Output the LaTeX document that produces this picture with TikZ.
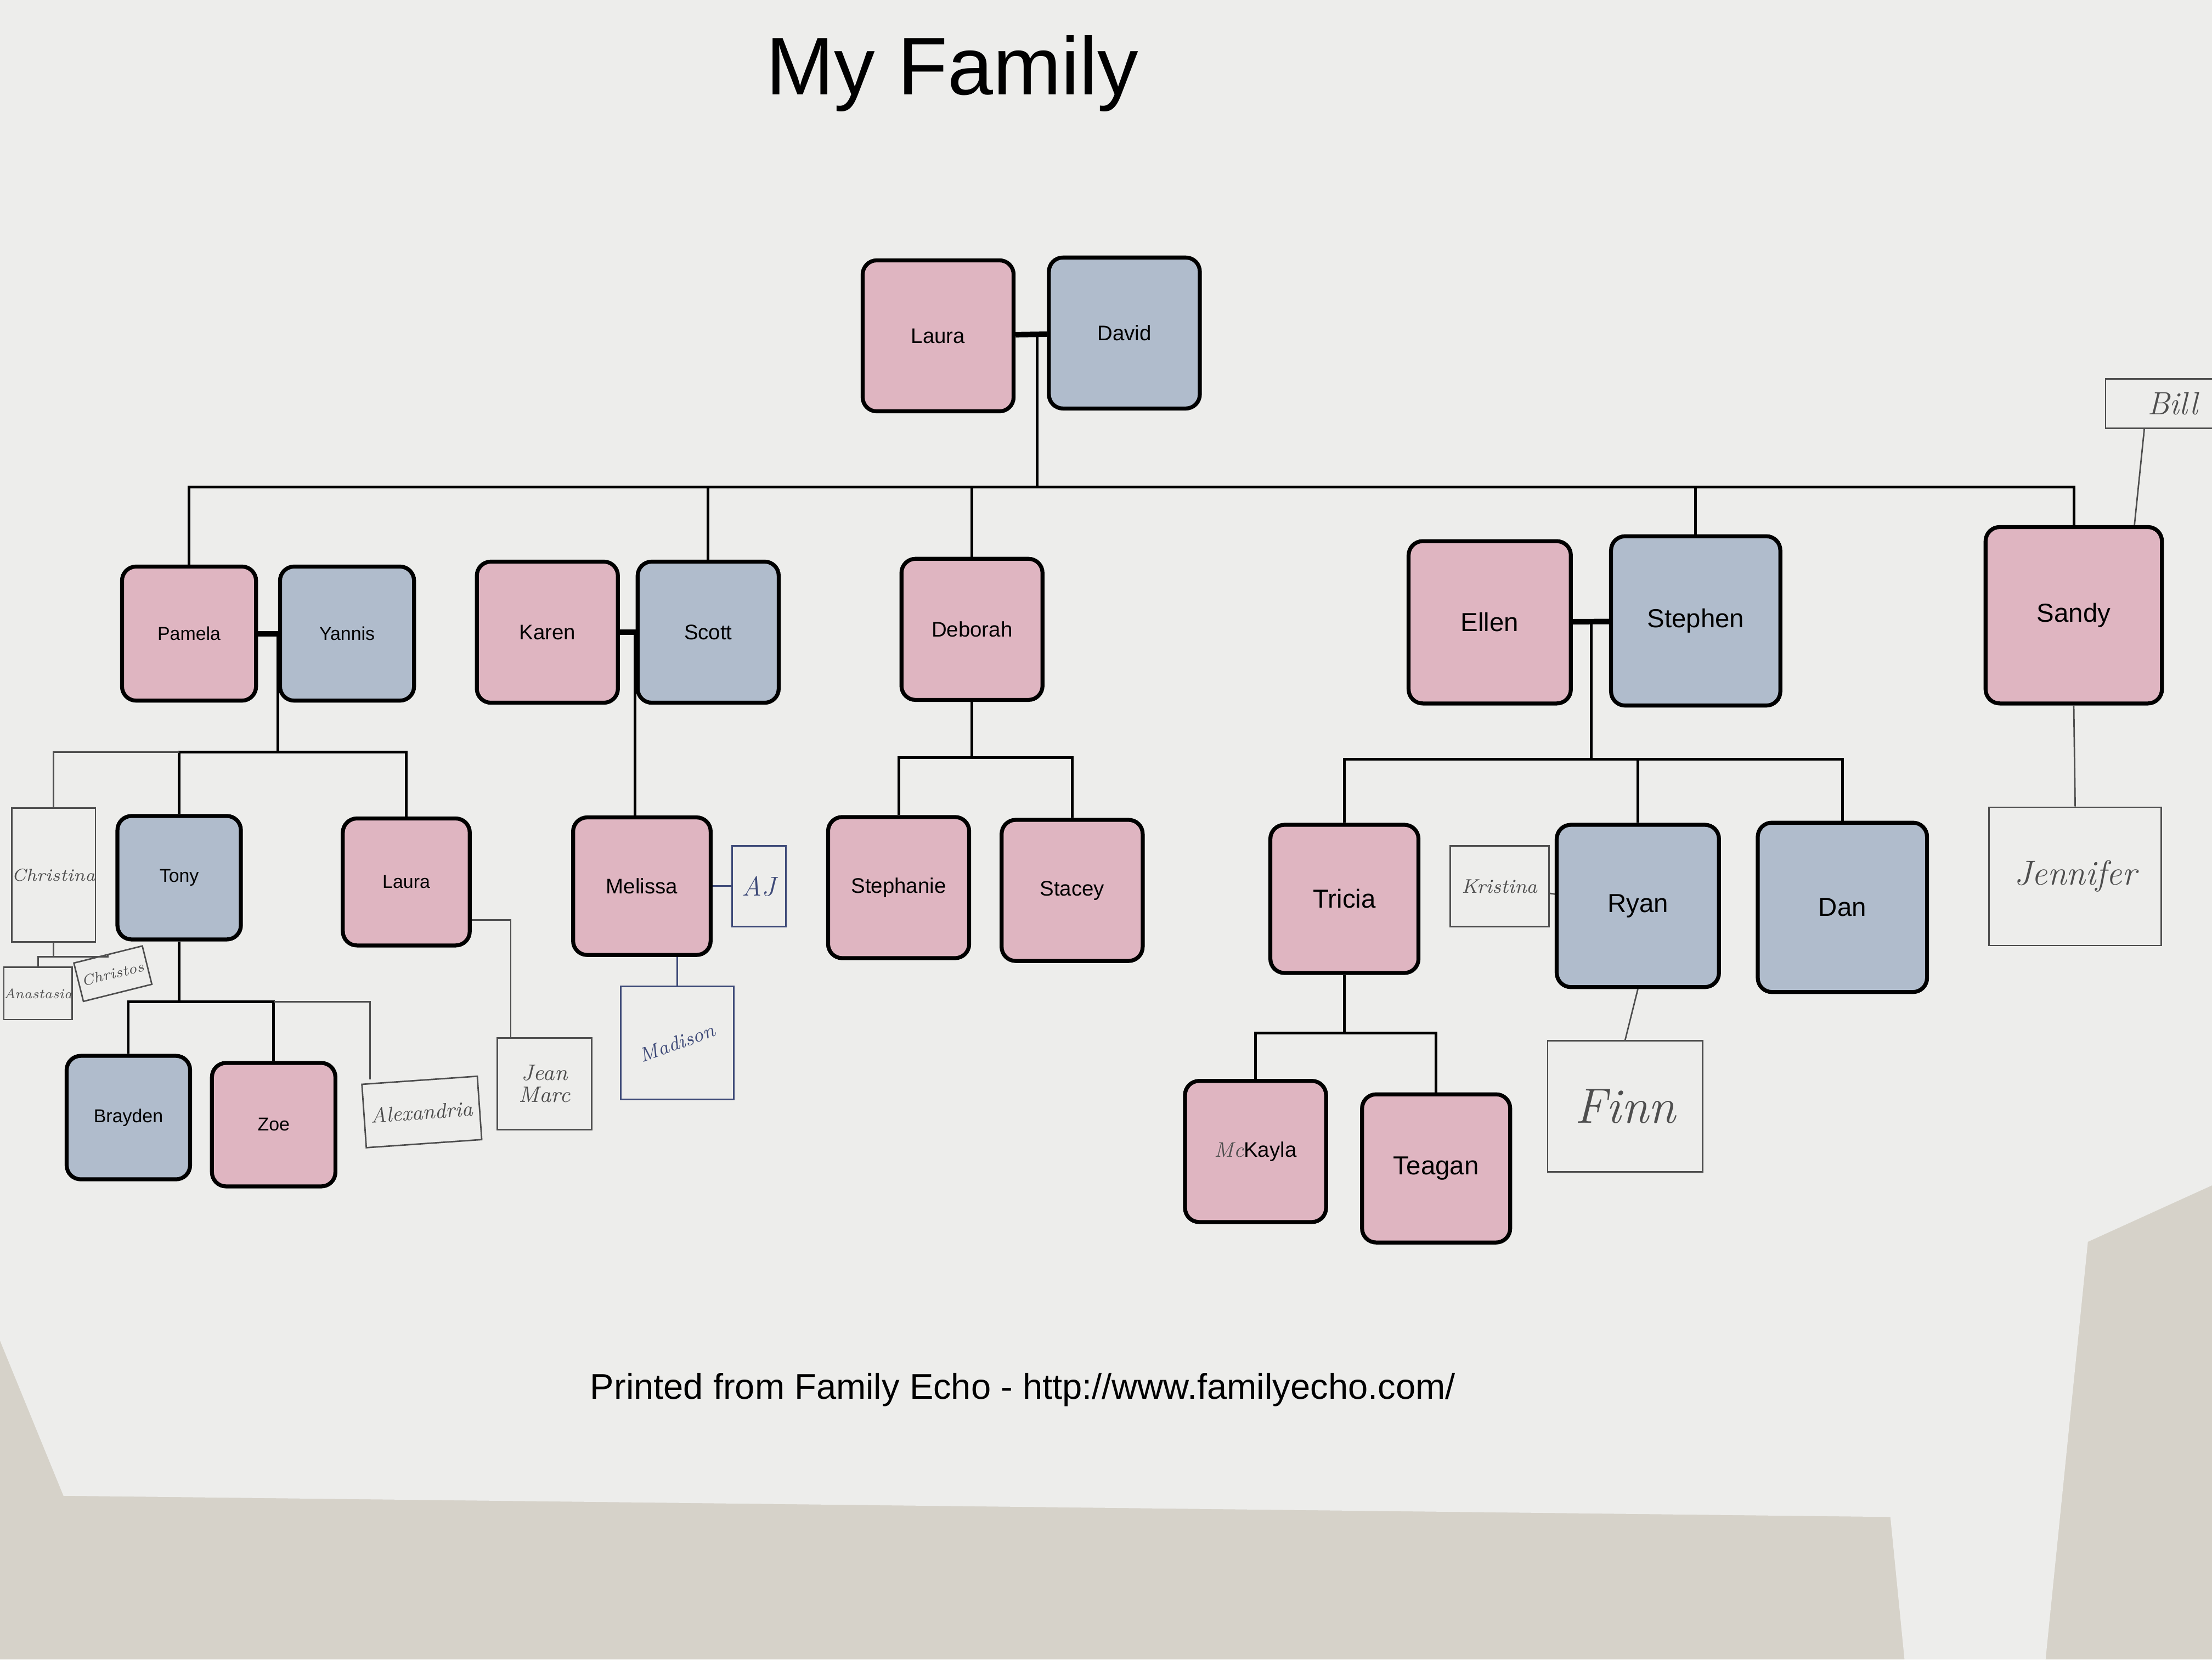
\documentclass[tikz,border=0pt]{standalone}
\usepackage{graphicx}
\usepackage{fontspec}
\setsansfont{Liberation Sans}
\definecolor{EchoPink}{HTML}{DFB5C1}
\definecolor{EchoBlue}{HTML}{B0BCCC}
\definecolor{PaperWhite}{HTML}{EDEDEB}
\definecolor{DoorGray}{HTML}{D6D2C9}
\definecolor{PencilGray}{HTML}{4E4E4E}
\definecolor{InkBlue}{HTML}{3E4A78}

\begin{document}
\begin{tikzpicture}[x=0.2mm, y=-0.2mm,
    person/.style={draw=black, line width=1.6pt, rounded corners=2mm, minimum size=19mm,
      inner sep=0pt, font=\sffamily\fontsize{8.5}{10}\selectfont},
    woman/.style={person, fill=EchoPink},
    man/.style={person, fill=EchoBlue},
    near/.style={font=\sffamily\fontsize{7.5}{9}\selectfont},
    far/.style={font=\sffamily\fontsize{10.5}{12}\selectfont},
    couple/.style={line width=2.2pt},
    descent/.style={line width=1.1pt},
    hand/.style={draw=PencilGray, text=PencilGray, line width=0.6pt, inner sep=0pt,
      font=\itshape\fontsize{#1}{#1}\selectfont},
    ink/.style={hand=#1, draw=InkBlue, text=InkBlue},
    pen/.style={draw=PencilGray, line width=0.6pt},
    inkline/.style={draw=InkBlue, line width=0.7pt}]
  \useasboundingbox (0,0) rectangle (1568,1176);

  % --- Wall and paper ---
  \fill[DoorGray] (0,0) rectangle (1568,1176);
  \fill[PaperWhite] (0,0) -- (1568,0) -- (1568,840) -- (1480,880) -- (1450,1176)
    -- (1350,1176) -- (1340,1075) -- (45,1060) -- (0,950) -- cycle;

  % --- Title and footer ---
  \node[font=\sffamily\fontsize{33}{36}\selectfont] (title) at (675,52) {My Family};
  \node[font=\sffamily\fontsize{14.4}{16}\selectfont] (footer) at (725,985)
    {Printed from Family Echo - http://www.familyecho.com/};

  % --- Generation 1 ---
  \node[woman, minimum size=21.4mm] (laura1) at (665,238) {Laura};
  \node[man, minimum size=21.4mm] (david) at (797,236) {David};
  \coordinate (ld) at (735,237);
  \coordinate (bar-ld) at (735,345);

  % --- Generation 2 ---
  \node[woman, near] (pamela) at (134,449) {Pamela};
  \node[man, near] (yannis) at (246,449) {Yannis};
  \node[woman, minimum size=20mm] (karen) at (388,448) {Karen};
  \node[man, minimum size=20mm] (scott) at (502,448) {Scott};
  \node[woman, minimum size=20mm] (deborah) at (689,446) {Deborah};
  \node[woman, far, minimum size=23mm] (ellen) at (1056,441) {Ellen};
  \node[man, far, minimum size=24mm] (stephen) at (1202,440) {Stephen};
  \node[woman, far, minimum size=25mm] (sandy) at (1470,436) {Sandy};

  % --- Generation 3 ---
  \node[man, near, minimum size=17.5mm] (tony) at (127,622) {Tony};
  \node[woman, near, minimum size=18mm] (laura2) at (288,625) {Laura};
  \node[woman, minimum size=19.5mm] (melissa) at (455,628) {Melissa};
  \node[woman, minimum size=20mm] (stephanie) at (637,629) {Stephanie};
  \node[woman, minimum size=20mm] (stacey) at (760,631) {Stacey};
  \node[woman, far, minimum size=21mm] (tricia) at (953,637) {Tricia};
  \node[man, far, minimum size=23mm] (ryan) at (1161,642) {Ryan};
  \node[man, far, minimum size=24mm] (dan) at (1306,643) {Dan};

  % --- Generation 4 ---
  \node[man, near, minimum size=17.5mm] (brayden) at (91,792) {Brayden};
  \node[woman, near, minimum size=17.5mm] (zoe) at (194,797) {Zoe};
  \node[woman, minimum size=20mm] (mckayla) at (890,816)
    {{\color{PencilGray}\rmfamily\itshape Mc}Kayla};
  \node[woman, far, minimum size=21mm] (teagan) at (1018,828) {Teagan};

  % --- Printed connectors ---
  \draw[couple] (laura1) -- (david);
  \draw[descent] (ld) -- (bar-ld);
  \draw[descent] (pamela.north) |- (bar-ld) -| (sandy.north);
  \foreach \n in {scott, deborah, stephen}
    \draw[descent] (\n.north) -- (\n.north |- bar-ld);

  \draw[couple] (pamela) -- (yannis);
  \coordinate (py) at (197,449);
  \coordinate (bar-py) at (197,533);
  \draw[descent] (py) -- (bar-py);
  \draw[descent] (tony.north) |- (bar-py) -| (laura2.north);

  \draw[couple] (karen) -- (scott);
  \coordinate (ks) at (450,448);
  \draw[descent] (ks) -- (ks |- melissa.north);

  \coordinate (bar-d) at (692,537);
  \draw[descent] (deborah.south) -- (deborah.south |- bar-d);
  \draw[descent] (stephanie.north) |- (bar-d) -| (stacey.north);

  \draw[couple] (ellen) -- (stephen);
  \coordinate (es) at (1128,440);
  \coordinate (bar-es) at (1128,538);
  \draw[descent] (es) -- (bar-es);
  \draw[descent] (tricia.north) |- (bar-es) -| (dan.north);
  \draw[descent] (ryan.north) -- (ryan.north |- bar-es);

  \coordinate (bar-t) at (133,710);
  \draw[descent] (tony.south) -- (tony.south |- bar-t);
  \draw[descent] (brayden.north) |- (bar-t) -| (zoe.north);

  \coordinate (bar-tr) at (951,732);
  \draw[descent] (tricia.south) -- (tricia.south |- bar-tr);
  \draw[descent] (mckayla.north) |- (bar-tr) -| (teagan.north);

  % --- Handwritten additions ---
  \node[hand=7, minimum width=11mm, minimum height=19mm] (christina) at (38,620) {Christina};
  \node[hand=5.5, minimum width=9.5mm, minimum height=7.4mm] (anastasia) at (27,704) {Anastasia};
  \node[hand=6, minimum width=10mm, minimum height=5.6mm, rotate=14] (christos) at (80,690) {Christos};
  \coordinate (bar-c) at (45,678);
  \draw[pen] (tony.north |- bar-py) -| (christina.north);
  \draw[pen] (christina.south) -- (christina.south |- bar-c);
  \draw[pen] (anastasia.north) |- (bar-c) -| (christos.north);

  \node[hand=8.5, minimum width=16.4mm, minimum height=9mm, rotate=4] (alexandria) at (299,788) {Alexandria};
  \draw[pen] (zoe.north |- bar-t) -| ([xshift=-7mm]alexandria.north);

  \node[hand=9, align=center, minimum width=13.4mm, minimum height=13mm] (jeanmarc) at (386,768) {Jean\\Marc};
  \draw[pen] ([yshift=-5.4mm]laura2.east) -| ([xshift=-4.8mm]jeanmarc.north);

  \node[ink=11, minimum width=7.6mm, minimum height=11.4mm] (aj) at (538,628) {AJ};
  \draw[inkline] (melissa.east) -- (aj.west);
  \node[ink=8, minimum size=16mm] (madison) at (480,739) {\rotatebox{20}{Madison}};
  \draw[inkline] (madison.north |- melissa.south) -- (madison.north);

  \node[hand=8, minimum width=14mm, minimum height=11.4mm] (kristina) at (1063,628) {Kristina};
  \draw[pen] (kristina) -- (ryan);
  \node[hand=20, minimum width=22mm, minimum height=18.6mm] (finn) at (1152,784) {Finn};
  \draw[pen] (ryan.south) -- (finn.north);

  \node[hand=13, minimum width=19mm, minimum height=7mm] (bill) at (1540,286) {Bill};
  \draw[pen] ([xshift=-4mm]bill.south) -- ([xshift=8.6mm]sandy.north);
  \node[hand=14, minimum width=24.4mm, minimum height=19.6mm] (jennifer) at (1471,621) {Jennifer};
  \draw[pen] (sandy.south) -- (jennifer.north);
\end{tikzpicture}
\end{document}
